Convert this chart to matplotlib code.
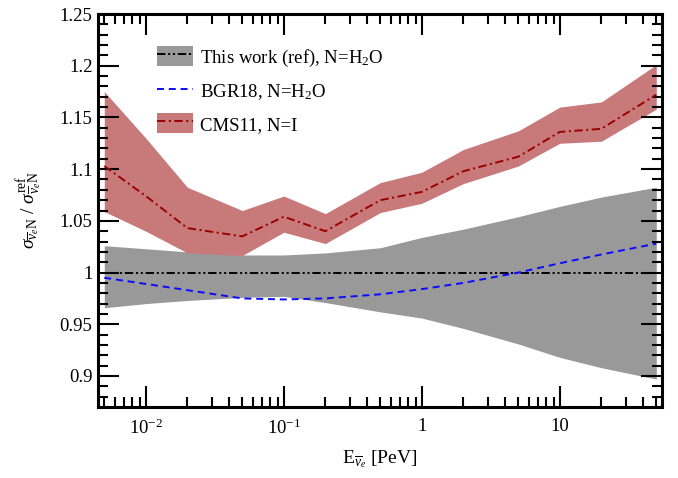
import matplotlib

matplotlib.use("Agg")
import matplotlib.pyplot as plt
from matplotlib.lines import Line2D
from matplotlib.patches import Patch
from matplotlib.ticker import FixedLocator, FixedFormatter, LogLocator, MultipleLocator, NullFormatter

plt.rcParams["font.family"] = ["Liberation Serif", "DejaVu Serif"]
plt.rcParams["mathtext.fontset"] = "custom"
plt.rcParams["mathtext.rm"] = "Liberation Serif"
plt.rcParams["mathtext.it"] = "Liberation Serif:italic"
plt.rcParams["mathtext.bf"] = "Liberation Serif:bold"
plt.rcParams["lines.scale_dashes"] = False

# énergie (PeV)
energy = [0.005, 0.01, 0.02, 0.05, 0.1, 0.2, 0.5, 1, 2, 5, 10, 20, 50]

# This work (ref), N=H2O : bande d'incertitude autour de 1
ref_upper = [1.026, 1.023, 1.020, 1.017, 1.017, 1.019, 1.024, 1.034, 1.042, 1.054, 1.064, 1.073, 1.0825]
ref_lower = [0.966, 0.970, 0.973, 0.976, 0.977, 0.971, 0.962, 0.956, 0.946, 0.931, 0.918, 0.908, 0.897]
ref_center = [1.0] * len(energy)

# BGR18, N=H2O
bgr_ratio = [0.995, 0.989, 0.983, 0.975, 0.974, 0.975, 0.979, 0.984, 0.990, 1.000, 1.009, 1.0175, 1.028]

# CMS11, N=I
cms_center = [1.103, 1.074, 1.043, 1.035, 1.054, 1.040, 1.070, 1.078, 1.098, 1.112, 1.136, 1.139, 1.172]
cms_upper = [1.175, 1.130, 1.0825, 1.060, 1.074, 1.057, 1.087, 1.097, 1.119, 1.137, 1.160, 1.165, 1.201]
cms_lower = [1.059, 1.040, 1.019, 1.0165, 1.039, 1.028, 1.058, 1.067, 1.086, 1.103, 1.125, 1.127, 1.158]

xticks = [0.01, 0.1, 1, 10]
xticklabels = [r"$10^{-2}$", r"$10^{-1}$", "1", "10"]
yticks = [0.9, 0.95, 1.0, 1.05, 1.1, 1.15, 1.2, 1.25]
yticklabels = ["0.9", "0.95", "1", "1.05", "1.1", "1.15", "1.2", "1.25"]

GRAY = "#999999"
RED_BAND = "#c87a7a"
RED_LINE = "#9a0000"
BLUE = "#0a0aff"
DASH_DOT_DOT = (0, (6, 2, 1.5, 2, 1.5, 2))
DASH_DOT = (0, (6, 2.5, 1.5, 2.5))
DASHED = (0, (5, 3.5))
LW = 1.4

fig = plt.figure(figsize=(6.78, 4.78), dpi=100)
ax = fig.add_axes((0.1445, 0.1485, 0.8319, 0.8222))

ax.fill_between(energy, ref_lower, ref_upper, color=GRAY, lw=0, zorder=1)
ax.fill_between(energy, cms_lower, cms_upper, color=RED_BAND, lw=0, zorder=1)
ax.plot(energy, ref_center, color="black", lw=LW, linestyle=DASH_DOT_DOT, zorder=3)
ax.plot(energy, cms_center, color=RED_LINE, lw=LW, linestyle=DASH_DOT, zorder=3)
ax.plot(energy, bgr_ratio, color=BLUE, lw=LW, linestyle=DASHED, zorder=4)

ax.set_xscale("log")
ax.set_xlim(0.0045, 55)
ax.set_ylim(0.87, 1.25)

ax.xaxis.set_major_locator(FixedLocator(xticks))
ax.xaxis.set_major_formatter(FixedFormatter(xticklabels))
ax.xaxis.set_minor_locator(LogLocator(base=10, subs=range(2, 10), numticks=20))
ax.xaxis.set_minor_formatter(NullFormatter())
ax.yaxis.set_major_locator(FixedLocator(yticks))
ax.yaxis.set_major_formatter(FixedFormatter(yticklabels))
ax.yaxis.set_minor_locator(MultipleLocator(0.01))

ax.tick_params(which="both", direction="in", top=True, right=True, width=1.5, labelsize=13.5)
ax.tick_params(which="major", length=15)
ax.tick_params(which="minor", length=7.5)
ax.tick_params(axis="x", which="major", pad=8)
ax.tick_params(axis="y", which="major", pad=4)
for spine in ax.spines.values():
    spine.set_linewidth(2.2)

ax.set_xlabel(r"$\mathrm{E}_{\overline{\nu}_e}$ [PeV]", fontsize=14, labelpad=8)
ax.set_ylabel(r"$\sigma_{\overline{\nu}_e\mathrm{N}}$ / $\sigma^{\mathrm{ref}}_{\overline{\nu}_e\mathrm{N}}$",
              fontsize=14, labelpad=11)

handles = [
    (Patch(facecolor=GRAY, edgecolor="none"), Line2D([], [], color="black", lw=LW, linestyle=DASH_DOT_DOT)),
    Line2D([], [], color=BLUE, lw=LW, linestyle=DASHED),
    (Patch(facecolor=RED_BAND, edgecolor="none"), Line2D([], [], color=RED_LINE, lw=LW, linestyle=DASH_DOT)),
]
labels = [r"This work (ref), N=H$_2$O", r"BGR18, N=H$_2$O", "CMS11, N=I"]
ax.legend(handles, labels, loc="upper left", bbox_to_anchor=(0.1046, 0.918), frameon=False,
          fontsize=13.5, borderpad=0, borderaxespad=0, handlelength=1.9, handleheight=1.28,
          handletextpad=0.4, labelspacing=0.62)

fig.savefig("out.png", dpi=100)
